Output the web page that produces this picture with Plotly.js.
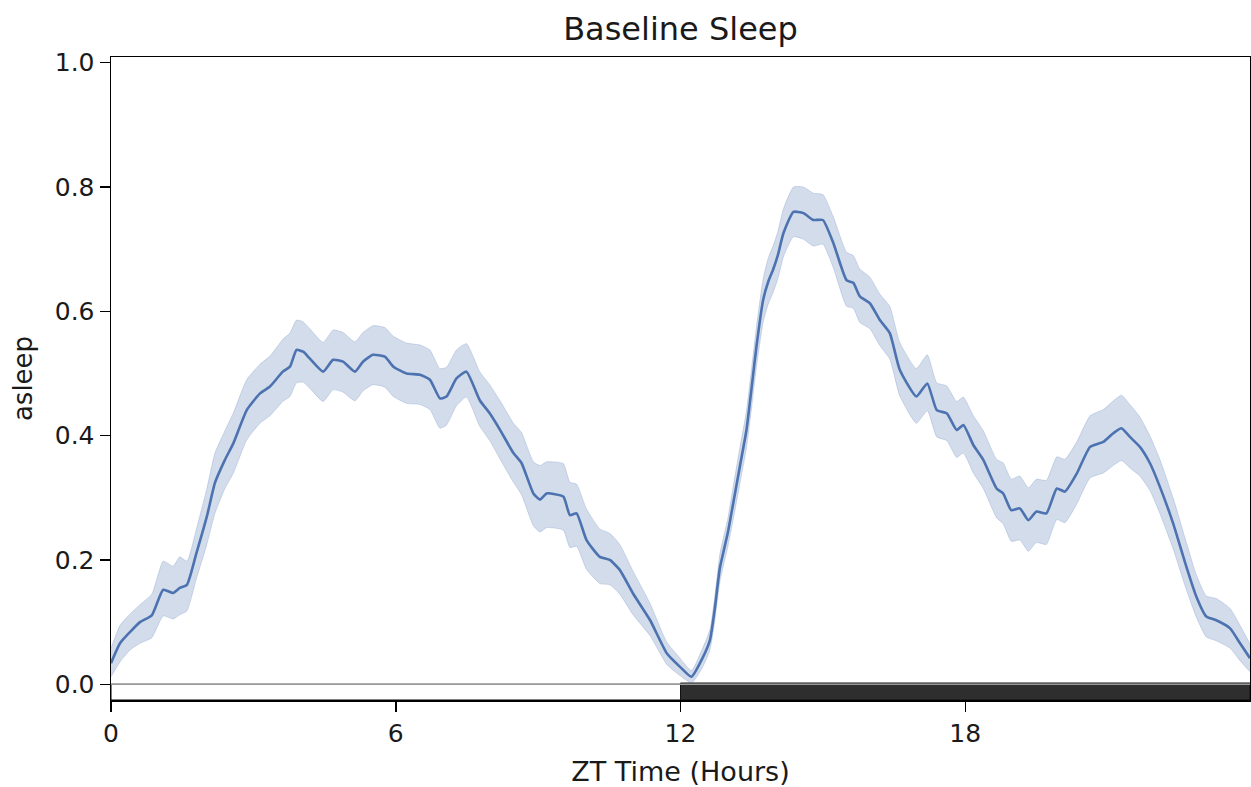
<!DOCTYPE html>
<html>
<head>
<meta charset="utf-8">
<script src="https://cdn.plot.ly/plotly-3.0.1.min.js"></script>
<style>
  html, body { margin: 0; padding: 0; background: #ffffff; }
  #chart { width: 1251px; height: 787px; }
</style>
</head>
<body>
<div id="chart"></div>
<script>
// ZT hour of each sample
const hours = [0.00,0.19,0.40,0.61,0.86,1.10,1.31,1.45,1.60,1.80,2.02,2.19,2.40,2.58,2.86,3.14,3.35,3.62,3.77,3.91,4.05,4.19,4.47,4.68,4.89,5.14,5.31,5.52,5.77,5.95,6.23,6.51,6.72,6.93,7.07,7.28,7.49,7.77,7.98,8.20,8.48,8.65,8.90,9.04,9.18,9.53,9.67,9.81,10.02,10.30,10.51,10.72,11.00,11.36,11.71,11.99,12.23,12.45,12.62,12.72,12.83,13.00,13.11,13.25,13.39,13.50,13.60,13.74,13.85,13.95,14.05,14.17,14.38,14.59,14.80,15.00,15.22,15.50,15.64,15.78,15.99,16.20,16.41,16.62,16.97,17.20,17.40,17.61,17.82,17.96,18.17,18.38,18.66,18.80,18.97,19.15,19.33,19.50,19.71,19.93,20.10,20.35,20.63,20.91,21.12,21.29,21.47,21.68,21.89,22.10,22.38,22.66,22.87,23.08,23.29,23.58,23.79,24.00];
// mean fraction asleep
const asleepMean = [0.034,0.066,0.084,0.100,0.111,0.152,0.147,0.155,0.160,0.211,0.270,0.324,0.361,0.388,0.441,0.468,0.479,0.503,0.511,0.538,0.535,0.524,0.503,0.522,0.519,0.503,0.519,0.530,0.527,0.511,0.500,0.498,0.490,0.460,0.463,0.492,0.503,0.457,0.436,0.409,0.372,0.356,0.307,0.297,0.307,0.302,0.272,0.275,0.232,0.205,0.200,0.184,0.146,0.103,0.050,0.028,0.012,0.040,0.071,0.120,0.187,0.245,0.291,0.350,0.409,0.478,0.543,0.618,0.648,0.667,0.690,0.726,0.760,0.758,0.747,0.747,0.710,0.650,0.646,0.624,0.613,0.586,0.565,0.506,0.463,0.484,0.441,0.436,0.409,0.417,0.385,0.361,0.315,0.307,0.280,0.283,0.264,0.278,0.275,0.315,0.310,0.339,0.382,0.390,0.404,0.412,0.398,0.382,0.356,0.318,0.259,0.189,0.141,0.109,0.103,0.090,0.066,0.042];
// confidence band, lower edge
const ciLower = [0.012,0.036,0.055,0.066,0.075,0.110,0.105,0.112,0.118,0.170,0.225,0.275,0.315,0.340,0.393,0.420,0.432,0.455,0.463,0.485,0.486,0.476,0.455,0.474,0.470,0.456,0.472,0.482,0.478,0.463,0.452,0.450,0.442,0.412,0.417,0.448,0.462,0.415,0.392,0.362,0.325,0.305,0.255,0.245,0.252,0.248,0.220,0.222,0.185,0.162,0.160,0.145,0.112,0.078,0.032,0.014,0.002,0.025,0.055,0.100,0.165,0.222,0.265,0.322,0.380,0.446,0.510,0.582,0.612,0.630,0.652,0.688,0.720,0.716,0.705,0.708,0.670,0.608,0.605,0.582,0.572,0.545,0.523,0.464,0.420,0.440,0.398,0.392,0.365,0.372,0.340,0.315,0.268,0.258,0.230,0.232,0.214,0.228,0.225,0.265,0.260,0.290,0.332,0.340,0.352,0.360,0.348,0.335,0.312,0.275,0.218,0.152,0.108,0.076,0.070,0.058,0.038,0.020];
// confidence band, upper edge
const ciUpper = [0.058,0.095,0.113,0.128,0.145,0.198,0.190,0.205,0.198,0.250,0.315,0.372,0.408,0.437,0.490,0.515,0.528,0.555,0.565,0.586,0.583,0.572,0.550,0.570,0.566,0.551,0.566,0.577,0.574,0.560,0.549,0.546,0.538,0.508,0.510,0.538,0.548,0.503,0.482,0.456,0.420,0.405,0.358,0.352,0.358,0.355,0.325,0.322,0.282,0.250,0.243,0.225,0.182,0.130,0.068,0.042,0.022,0.055,0.088,0.140,0.210,0.268,0.318,0.380,0.440,0.510,0.575,0.652,0.686,0.705,0.728,0.765,0.800,0.800,0.790,0.788,0.752,0.695,0.690,0.668,0.655,0.628,0.608,0.550,0.508,0.530,0.485,0.480,0.455,0.462,0.432,0.408,0.362,0.356,0.330,0.335,0.316,0.330,0.328,0.366,0.362,0.390,0.432,0.442,0.456,0.465,0.450,0.430,0.400,0.362,0.300,0.228,0.176,0.142,0.138,0.122,0.095,0.065];

const xTickVals = [0, 6, 12, 18];
const xTickText = ['0', '6', '12', '18'];
const yTickVals = [0.0, 0.2, 0.4, 0.6, 0.8, 1.0];
const yTickText = ['0.0', '0.2', '0.4', '0.6', '0.8', '1.0'];
const lightPeriod = [0, 12];
const darkPeriod = [12, 24];

const FONT = 'DejaVu Sans, sans-serif';
const TXT = '#1a1a1a';
const BLUE = '#4c72b0';

const traces = [
  {
    x: hours, y: ciLower, type: 'scatter', mode: 'lines',
    line: {width: 0.8, color: 'rgba(76,114,176,0.28)', shape: 'spline', smoothing: 0.5},
    hoverinfo: 'skip', showlegend: false
  },
  {
    x: hours, y: ciUpper, type: 'scatter', mode: 'lines',
    fill: 'tonexty', fillcolor: 'rgba(76,114,176,0.25)',
    line: {width: 0.8, color: 'rgba(76,114,176,0.28)', shape: 'spline', smoothing: 0.5},
    hoverinfo: 'skip', showlegend: false
  },
  {
    x: hours, y: asleepMean, type: 'scatter', mode: 'lines',
    line: {width: 2.6, color: BLUE, shape: 'spline', smoothing: 0.5},
    name: 'asleep', showlegend: false
  }
];

const yBottom = -0.0253;
const layout = {
  width: 1251, height: 787,
  margin: {l: 111, r: 1, t: 57, b: 87},
  paper_bgcolor: '#ffffff', plot_bgcolor: '#ffffff',
  font: {family: FONT, size: 25, color: TXT},
  showlegend: false,
  title: {
    text: 'Baseline Sleep',
    font: {family: FONT, size: 32, color: TXT},
    x: 0.5, xref: 'paper', xanchor: 'center',
    y: 1.045, yref: 'paper', yanchor: 'middle'
  },
  xaxis: {
    range: [0, 24],
    tickmode: 'array', tickvals: xTickVals, ticktext: xTickText,
    ticks: 'outside', ticklen: 10, tickwidth: 1.5, tickcolor: '#000',
    showline: true, linecolor: '#000', linewidth: 1.5, mirror: true,
    showgrid: false, zeroline: false,
    tickfont: {family: FONT, size: 25, color: TXT},
    title: {text: 'ZT Time (Hours)', font: {family: FONT, size: 27, color: TXT}, standoff: 15}
  },
  yaxis: {
    range: [yBottom, 1.0092],
    tickmode: 'array', tickvals: yTickVals, ticktext: yTickText,
    ticks: 'outside', ticklen: 10, tickwidth: 1.5, tickcolor: '#000',
    showline: true, linecolor: '#000', linewidth: 1.5, mirror: true,
    showgrid: false, zeroline: false,
    tickfont: {family: FONT, size: 25, color: TXT},
    title: {text: 'asleep', font: {family: FONT, size: 26, color: TXT}, standoff: 14}
  },
  shapes: [
    {type: 'rect', xref: 'x', yref: 'y', x0: lightPeriod[0], x1: lightPeriod[1], y0: yBottom, y1: 0.0,
     fillcolor: '#ffffff', line: {color: '#000', width: 1}, layer: 'below'},
    {type: 'rect', xref: 'x', yref: 'y', x0: darkPeriod[0], x1: darkPeriod[1], y0: yBottom, y1: 0.002,
     fillcolor: '#2e2e2e', line: {color: '#111', width: 1}, layer: 'below'},
    {type: 'line', xref: 'x', yref: 'y', x0: 0, x1: 24, y0: 0, y1: 0,
     line: {color: '#9a9a9a', width: 1.5}, layer: 'below'}
  ]
};

Plotly.newPlot('chart', traces, layout, {displayModeBar: false, staticPlot: true});
</script>
</body>
</html>
